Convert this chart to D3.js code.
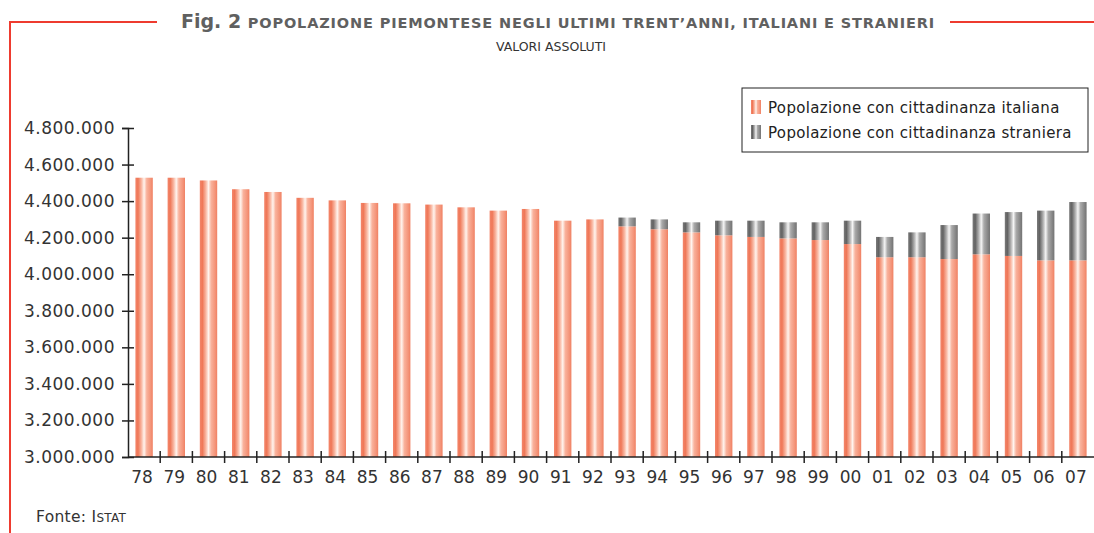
<!DOCTYPE html>
<html>
<head>
<meta charset="utf-8">
<script src="https://cdn.jsdelivr.net/npm/d3@7"></script>
<style>
  body { margin: 0; background: #fff; }
  svg { display: block; }
  .tick text { font-family: "DejaVu Sans", sans-serif; }
</style>
</head>
<body>
<div id="chart"></div>
<script>
// data
var years = ["78","79","80","81","82","83","84","85","86","87","88","89","90","91","92",
             "93","94","95","96","97","98","99","00","01","02","03","04","05","06","07"];
var italiani = [4528000,4528000,4513000,4465000,4450000,4418000,4404000,4390000,4388000,4381000,
                4366000,4348000,4357000,4293000,4300000,4262000,4246000,4229000,4213000,4204000,
                4196000,4187000,4165000,4093000,4093000,4083000,4109000,4100000,4076000,4076000];
var stranieri = [0,0,0,0,0,0,0,0,0,0,
                 0,0,0,0,0,48000,54000,55000,80000,89000,
                 88000,97000,128000,111000,136000,186000,223000,240000,272000,319000];
var yTicks = [3000000,3200000,3400000,3600000,3800000,4000000,4200000,4400000,4600000,4800000];
var seriesNames = ["Popolazione con cittadinanza italiana", "Popolazione con cittadinanza straniera"];

var svgWidth = 1094;
var svgHeight = 533;

var margin = {top: 128, bottom: 76, left: 128, right: 0};
var chartWidth = svgWidth - margin.left - margin.right;
var chartHeight = svgHeight - margin.top - margin.bottom;

var svg = d3.select("#chart")
  .append("svg")
  .attr("width", svgWidth)
  .attr("height", svgHeight);

// striped gradients for the bars
var defs = svg.append("defs");
function stripe(id, stops) {
  var g = defs.append("linearGradient").attr("id", id)
    .attr("x1", "0%").attr("x2", "100%").attr("y1", "0%").attr("y2", "0%");
  stops.forEach(function(s) {
    g.append("stop").attr("offset", s[0]).attr("stop-color", s[1]);
  });
}
stripe("gradIt", [["0%","#f3866b"],["15%","#ef7757"],["35%","#f9b8a3"],["50%","#fff4ee"],
                  ["65%","#f9b29c"],["88%","#f49479"],["100%","#f08062"]]);
stripe("gradSt", [["0%","#7a7a7a"],["15%","#626262"],["35%","#b0b0b0"],["50%","#f4f4f4"],
                  ["65%","#aaa"],["88%","#858585"],["100%","#737373"]]);

// frame lines in red
var red = "#ee3b2f";
svg.append("line").attr("x1", 10).attr("x2", 157).attr("y1", 22).attr("y2", 22)
  .attr("stroke", red).attr("stroke-width", 2);
svg.append("line").attr("x1", 950).attr("x2", 1094).attr("y1", 22).attr("y2", 22)
  .attr("stroke", red).attr("stroke-width", 2);
svg.append("line").attr("x1", 10).attr("x2", 10).attr("y1", 21).attr("y2", 533)
  .attr("stroke", red).attr("stroke-width", 2);

// title
var title = svg.append("text")
  .attr("x", 181).attr("y", 28)
  .attr("fill", "#606060")
  .attr("font-family", "DejaVu Sans, sans-serif");
title.append("tspan").attr("font-size", 19).attr("font-weight", "bold").text("Fig. 2 ");
title.append("tspan").attr("font-size", 14.5).attr("font-weight", "bold")
  .attr("letter-spacing", 0.85)
  .text("POPOLAZIONE PIEMONTESE NEGLI ULTIMI TRENT\u2019ANNI, ITALIANI E STRANIERI");

svg.append("text")
  .attr("x", 551).attr("y", 51)
  .attr("text-anchor", "middle")
  .attr("fill", "#333")
  .attr("font-family", "DejaVu Sans, sans-serif")
  .attr("font-size", 12.5)
  .text("VALORI ASSOLUTI");

var chartGroup = svg.append("g")
  .attr("transform", `translate(${margin.left}, ${margin.top})`);

var xScale = d3.scaleBand()
  .domain(years)
  .range([0, chartWidth])
  .paddingInner(0.46)
  .paddingOuter(0.23);

var yScale = d3.scaleLinear()
  .domain([3000000, 4800000])
  .range([chartHeight, 0]);

// bars
chartGroup.selectAll(".bar-it")
  .data(years)
  .enter()
  .append("rect")
  .attr("class", "bar-it")
  .attr("x", d => xScale(d))
  .attr("width", xScale.bandwidth())
  .attr("y", (d, i) => yScale(italiani[i]))
  .attr("height", (d, i) => chartHeight - yScale(italiani[i]))
  .attr("fill", "url(#gradIt)");

chartGroup.selectAll(".bar-st")
  .data(years.filter((d, i) => stranieri[i] > 0))
  .enter()
  .append("rect")
  .attr("class", "bar-st")
  .attr("x", d => xScale(d))
  .attr("width", xScale.bandwidth())
  .attr("y", d => { var i = years.indexOf(d); return yScale(italiani[i] + stranieri[i]); })
  .attr("height", d => { var i = years.indexOf(d); return yScale(italiani[i]) - yScale(italiani[i] + stranieri[i]); })
  .attr("fill", "url(#gradSt)");

// y axis
var fmt = d3.formatLocale({decimal: ",", thousands: ".", grouping: [3], currency: ["", "€"]}).format(",");
var leftAxis = d3.axisLeft(yScale).tickValues(yTicks).tickFormat(fmt).tickSize(6).tickPadding(8);
var yAxisG = chartGroup.append("g").call(leftAxis);
yAxisG.selectAll(".tick line").attr("x1", -6).attr("x2", 6);
yAxisG.selectAll("text").attr("font-size", 17).attr("letter-spacing", 0.5)
  .attr("fill", "#333").attr("x", -13);

// x axis with ticks between categories
var xAxisG = chartGroup.append("g")
  .attr("transform", `translate(0, ${chartHeight})`);
xAxisG.append("line").attr("x1", 0).attr("x2", chartWidth)
  .attr("stroke", "#222").attr("stroke-width", 1.5);
var step = xScale.step();
xAxisG.selectAll(".xt")
  .data(years.slice(1))
  .enter()
  .append("line")
  .attr("x1", d => xScale(d) - step * xScale.paddingInner() / 2)
  .attr("x2", d => xScale(d) - step * xScale.paddingInner() / 2)
  .attr("y1", -6).attr("y2", 6)
  .attr("stroke", "#222").attr("stroke-width", 1.5);
xAxisG.selectAll(".xl")
  .data(years)
  .enter()
  .append("text")
  .attr("x", d => xScale(d) + xScale.bandwidth() / 2 - 2)
  .attr("y", 26)
  .attr("text-anchor", "middle")
  .attr("font-family", "DejaVu Sans, sans-serif")
  .attr("font-size", 17)
  .attr("fill", "#333")
  .text(d => d);

yAxisG.select(".domain").attr("stroke", "#222").attr("stroke-width", 1.5);
yAxisG.selectAll(".tick line").attr("stroke", "#222").attr("stroke-width", 1.5);

// legend
var legend = svg.append("g").attr("transform", "translate(742, 88)");
legend.append("rect").attr("width", 346).attr("height", 64)
  .attr("fill", "#fff").attr("stroke", "#222").attr("stroke-width", 1);
var legendFills = ["url(#gradIt)", "url(#gradSt)"];
seriesNames.forEach(function(name, i) {
  legend.append("rect").attr("x", 9).attr("y", 12 + i * 25).attr("width", 10).attr("height", 14)
    .attr("fill", legendFills[i]);
  legend.append("text").attr("x", 26).attr("y", 25 + i * 25)
    .attr("font-family", "DejaVu Sans, sans-serif").attr("font-size", 15)
    .attr("letter-spacing", 0.35).attr("fill", "#222")
    .text(name);
});

// source
var src = svg.append("text").attr("x", 36).attr("y", 522)
  .attr("font-family", "DejaVu Sans, sans-serif").attr("fill", "#333").attr("font-size", 15.5)
  .attr("letter-spacing", 0.3);
src.append("tspan").text("Fonte: I");
src.append("tspan").attr("font-size", 12).text("STAT");
</script>
</body>
</html>
